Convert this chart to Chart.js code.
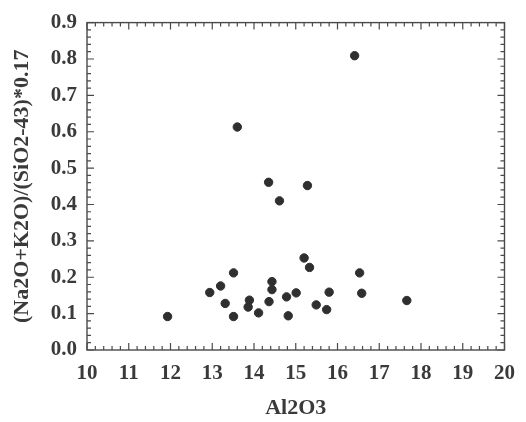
<!DOCTYPE html>
<html>
<head>
<meta charset="utf-8">
<title>Al2O3 vs alkali ratio</title>
<script src="https://cdn.jsdelivr.net/npm/chart.js@4/dist/chart.umd.min.js"></script>
<style>
    html, body { margin: 0; padding: 0; background: #fff; }
    #wrap { width: 526px; height: 422px; }
</style>
</head>
<body>
<div id="wrap"><canvas id="scatter" width="526" height="422"></canvas></div>
<script>
// samples: Al2O3 (wt%) and (Na2O+K2O)/(SiO2-43)*0.17
const al2o3 = [
    16.41, 13.60, 14.35, 15.28, 14.61, 15.20, 15.33, 13.51, 16.53, 13.20,
    14.43, 14.43, 12.94, 15.01, 15.80, 16.58, 13.31, 13.89, 13.86, 14.36,
    14.78, 15.49, 15.74, 17.66, 11.93, 13.51, 14.11, 14.82,
];
const alkaliRatio = [
    0.809, 0.613, 0.461, 0.452, 0.410, 0.253, 0.227, 0.212, 0.212, 0.176,
    0.188, 0.166, 0.158, 0.157, 0.159, 0.156, 0.128, 0.137, 0.118, 0.133,
    0.146, 0.124, 0.111, 0.136, 0.092, 0.092, 0.102, 0.094,
];
const xTickLabels = ["10", "11", "12", "13", "14", "15", "16", "17", "18", "19", "20"];
const yTickLabels = ["0.0", "0.1", "0.2", "0.3", "0.4", "0.5", "0.6", "0.7", "0.8", "0.9"];

const ink = "#3a3a3a";
const serif = "'Liberation Serif', 'Times New Roman', serif";

// frame with inward ticks on all four sides (major + 4 minor per step)
const frameTicks = {
    id: "frameTicks",
    afterDraw(chart) {
        const { ctx, chartArea: a, scales: { x, y } } = chart;
        ctx.save();
        ctx.strokeStyle = "#4a4a4a";
        ctx.lineWidth = 1.4;
        ctx.strokeRect(a.left, a.top, a.right - a.left, a.bottom - a.top);

        ctx.lineWidth = 1.2;
        ctx.beginPath();
        for (let i = 0; i <= 50; i++) {
            const px = x.getPixelForValue(x.min + i * 0.2);
            const len = i % 5 === 0 ? 7 : 4;
            ctx.moveTo(px, a.bottom); ctx.lineTo(px, a.bottom - len);
            ctx.moveTo(px, a.top); ctx.lineTo(px, a.top + len);
        }
        for (let i = 0; i <= 45; i++) {
            const py = y.getPixelForValue(y.min + i * 0.02);
            const len = i % 5 === 0 ? 7 : 4;
            ctx.moveTo(a.left, py); ctx.lineTo(a.left + len, py);
            ctx.moveTo(a.right, py); ctx.lineTo(a.right - len, py);
        }
        ctx.stroke();
        ctx.restore();
    },
};

new Chart(document.getElementById("scatter"), {
    type: "scatter",
    data: {
        datasets: [
            {
                data: al2o3.map((v, i) => ({ x: v, y: alkaliRatio[i] })),
                backgroundColor: "#2f2f2f",
                borderColor: "#2f2f2f",
                pointRadius: 4.2,
                pointHoverRadius: 4.2,
            },
        ],
    },
    options: {
        responsive: false,
        animation: false,
        layout: { padding: { top: 17, right: 9, left: 0, bottom: 0 } },
        plugins: { legend: { display: false }, tooltip: { enabled: false } },
        scales: {
            x: {
                type: "linear",
                min: 10,
                max: 20,
                afterFit: (scale) => { scale.height = 72; },
                grid: { display: false, drawTicks: false },
                border: { display: false },
                ticks: {
                    stepSize: 1,
                    padding: 11,
                    color: ink,
                    font: { family: serif, size: 21, weight: "bold" },
                    callback: (v, i) => xTickLabels[i],
                },
                title: {
                    display: true,
                    text: "Al2O3",
                    color: ink,
                    padding: { top: 0, bottom: 0 },
                    font: { family: serif, size: 22, weight: "bold" },
                },
            },
            y: {
                type: "linear",
                min: 0,
                max: 0.9,
                afterFit: (scale) => { scale.width = 87; },
                grid: { display: false, drawTicks: false },
                border: { display: false },
                ticks: {
                    stepSize: 0.1,
                    padding: 10,
                    color: ink,
                    font: { family: serif, size: 21, weight: "bold" },
                    callback: (v, i) => yTickLabels[i],
                },
                title: {
                    display: true,
                    text: "(Na2O+K2O)/(SiO2-43)*0.17",
                    color: ink,
                    padding: { top: 9, bottom: 0 },
                    font: { family: serif, size: 22, weight: "bold" },
                },
            },
        },
    },
    plugins: [frameTicks],
});
</script>
</body>
</html>
